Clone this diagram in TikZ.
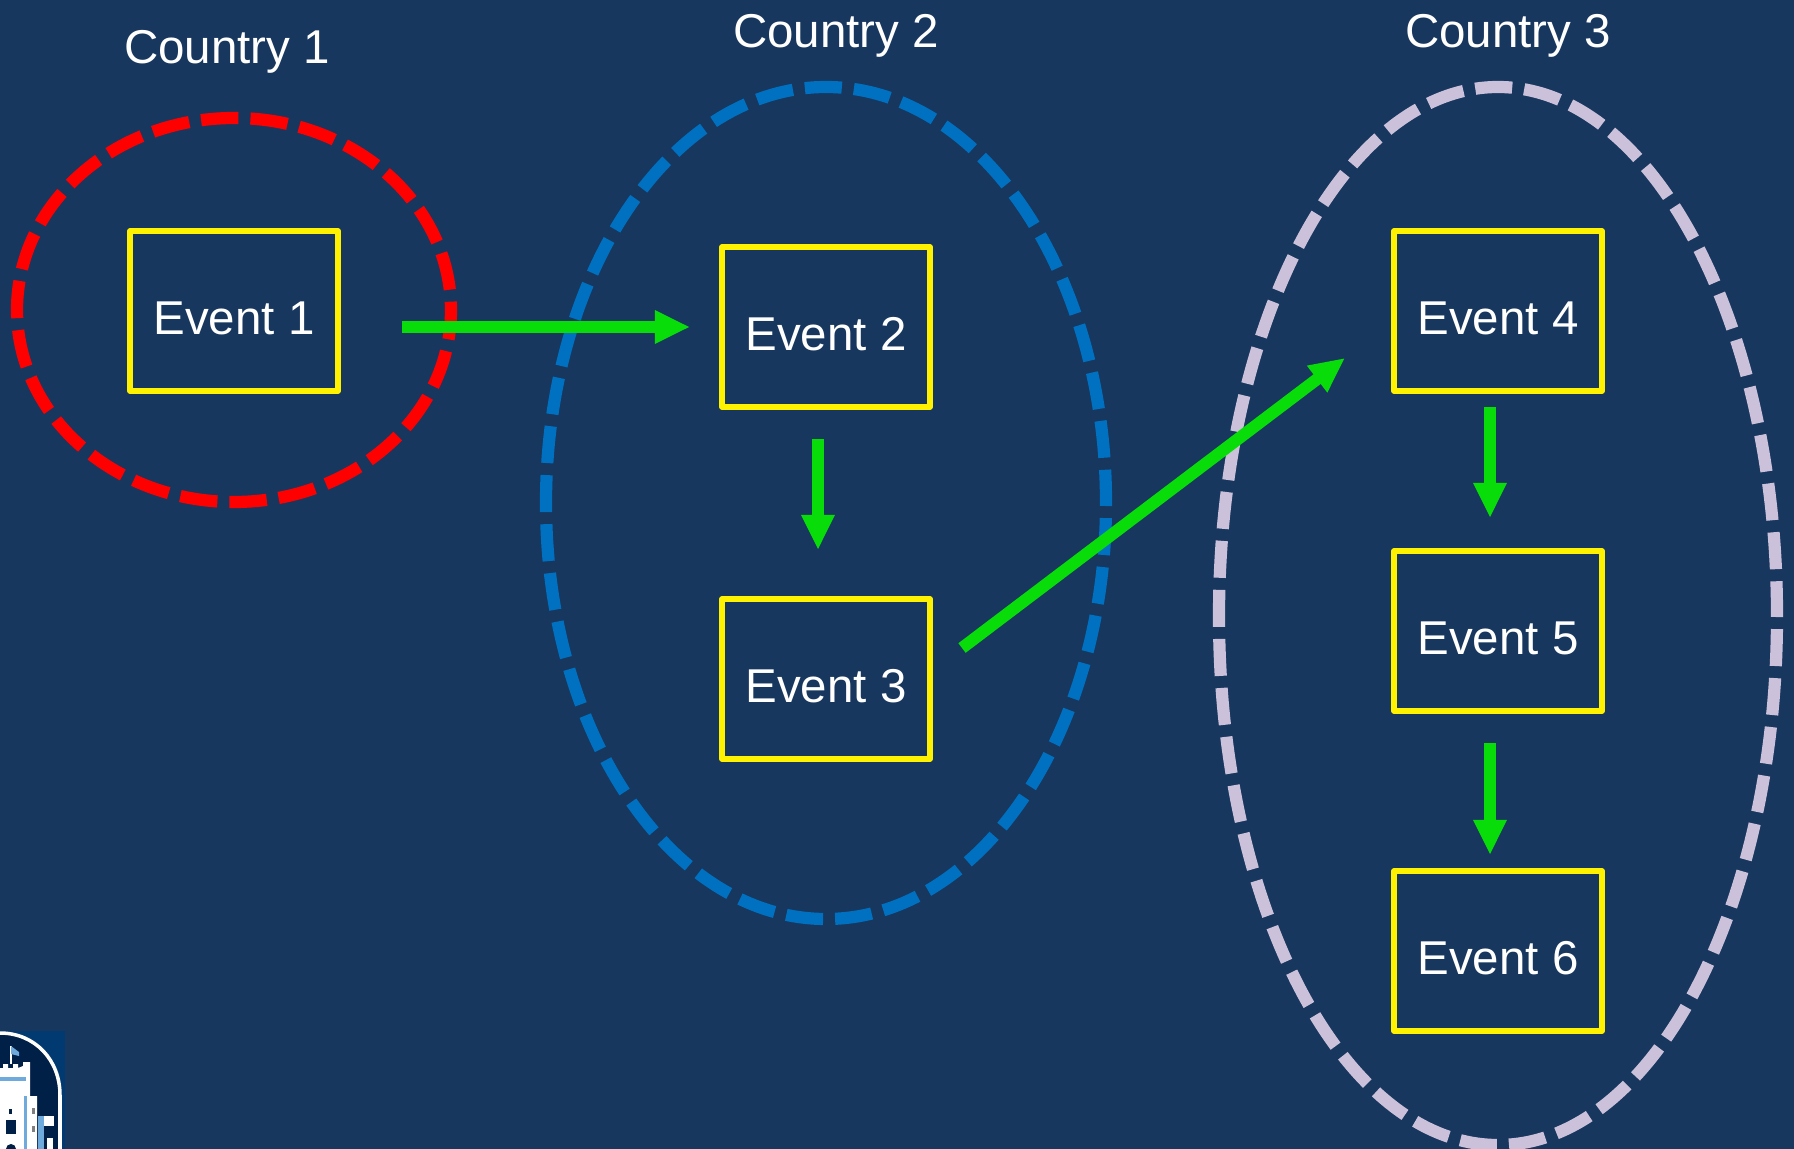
\documentclass[tikz,border=0pt]{standalone}
\usepackage{fontspec}
\setmainfont{Liberation Sans}
\usetikzlibrary{arrows.meta}
\definecolor{bgblue}{RGB}{24,55,94}
\definecolor{countryblue}{RGB}{0,112,192}
\definecolor{countrylilac}{RGB}{204,193,218}
\definecolor{flowgreen}{RGB}{9,221,9}
\definecolor{crestdark}{RGB}{0,32,72}
\definecolor{crestblue}{RGB}{0,58,112}
\definecolor{crestlight}{RGB}{110,170,220}
\tikzset{
  country/.style={line width=1.22mm,dash pattern=on 3.7mm off 1.205mm},
  eventbox/.style={draw=yellow,line width=0.55mm,line join=round,text=white,inner sep=0pt,minimum width=2.08cm,minimum height=1.6cm,text height=4.7mm,text depth=0pt},
  flow/.style={draw=flowgreen,line width=1.2mm,-{Triangle[length=3.5mm,width=3.1mm]}},
  label/.style={text=white}
}
\begin{document}
\begin{tikzpicture}[x=0.01cm,y=-0.01cm]\fontsize{13.5}{15}\selectfont
\fill[bgblue](0,0) rectangle (1794,1149);
\useasboundingbox (0,0) rectangle (1794,1149);
% countries
\draw[country,red,dash pattern=on 3.74mm off 1.203mm,dash phase=0.8mm] (234,310) ellipse [x radius=217,y radius=192];
\draw[country,countryblue,dash phase=3.4mm] (826,503) ellipse [x radius=280,y radius=416];
\draw[country,countrylilac,dash phase=3.6mm] (1498,616) ellipse [x radius=279,y radius=529];
\node[label] (c1) at (227,52) {Country 1};
\node[label] (c2) at (836,36) {Country 2};
\node[label] (c3) at (1508,36) {Country 3};
% events
\foreach \n/\x/\y in {1/234/311,2/826/327,3/826/679,4/1498/311,5/1498/631,6/1498/951}
  \node[eventbox] (ev\n) at (\x,\y) {Event \n};
% arrows
\coordinate (a1s) at (402,327);
\coordinate (a1e) at (690,327);
\coordinate (a2s) at (818,439);
\coordinate (a2e) at (818,550);
\coordinate (a3s) at (962,648);
\coordinate (a3e) at (1345,358);
\coordinate (a4s) at (1490,407);
\coordinate (a4e) at (1490,518);
\coordinate (a5s) at (1490,743);
\coordinate (a5e) at (1490,855);
\foreach \a in {1,...,5} \draw[flow] (a\a s) -- (a\a e);
% crest
\fill[crestblue](0,1031) rectangle (65,1149);
\fill[crestdark](0,1033) .. controls (35,1033) and (60,1060) .. (60,1095) -- (60,1149) -- (0,1149) -- cycle;
\draw[white,line width=0.35mm](0,1033) .. controls (35,1033) and (60,1060) .. (60,1095) -- (60,1149);
\fill[white](0,1068) -- (3,1068) -- (3,1064) -- (8,1064) -- (8,1068) -- (13,1068) -- (13,1064) -- (18,1064) -- (18,1068) -- (23,1066) -- (23,1062) -- (30,1062) -- (30,1096) -- (37,1096) -- (37,1149) -- (0,1149) -- cycle;
\fill[crestlight](0,1077) rectangle (26,1081);
\fill[crestlight](24,1096) rectangle (27,1149);
\draw[white,line width=0.2mm](11,1064) -- (11,1046);
\fill[crestlight](11,1046) -- (19,1052) -- (19,1056) -- (11,1054) -- cycle;
\fill[crestdark](6,1120) rectangle (16,1134);
\fill[crestdark](11,1149) circle (5);
\fill[crestdark](9,1109) rectangle (12,1114);
\fill[gray](32,1108) rectangle (35,1114);
\fill[gray](32,1126) rectangle (35,1132);
\fill[crestlight](38,1116) rectangle (44,1149);
\fill[white](44,1116) rectangle (54,1126);
\fill[white](47,1138) rectangle (53,1149);
\end{tikzpicture}
\end{document}
